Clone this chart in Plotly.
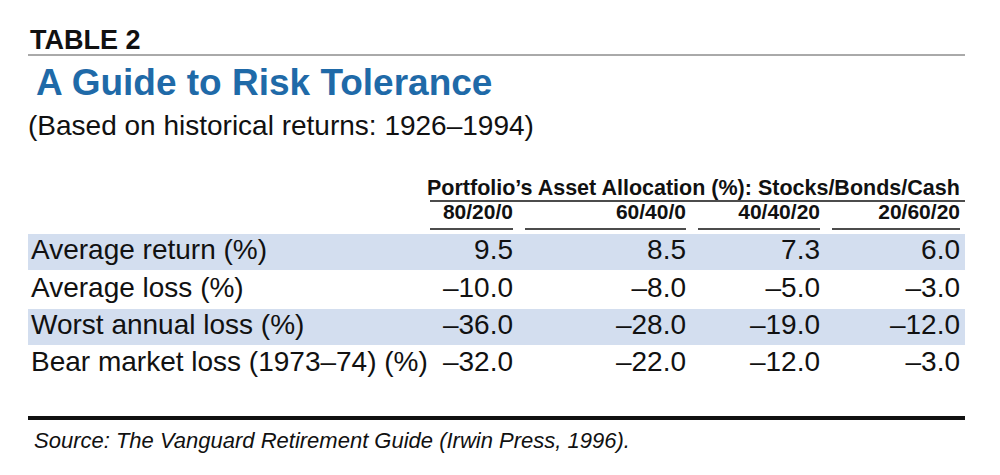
import plotly.graph_objects as go

row_labels = [
    "Average return (%)",
    "Average loss (%)",
    "Worst annual loss (%)",
    "Bear market loss (1973–74) (%)",
]
col_labels = ["80/20/0", "60/40/0", "40/40/20", "20/60/20"]
values = [
    [9.5, 8.5, 7.3, 6.0],
    [-10.0, -8.0, -5.0, -3.0],
    [-36.0, -28.0, -19.0, -12.0],
    [-32.0, -22.0, -12.0, -3.0],
]


class Table:
    def __init__(self):
        self.fig = go.Figure()
        self.col_x = [513, 686, 820, 960]  # right edges of value columns
        self.row_y = [252, 290, 327, 364]
        self.left = 28
        self.right = 965

    def fmt(self, v):
        # Use a real minus sign like the print original
        return f"{v:.1f}".replace("-", "–")

    def shade_rows(self):
        # Light blue band on every other row
        for i, y in enumerate(self.row_y):
            if i % 2 == 0:
                self.fig.add_shape(
                    type="rect", x0=self.left, x1=self.right, y0=y - 18, y1=y + 18,
                    fillcolor="#d3deef", line_width=0, layer="below",
                )

    def add_cells(self):
        # Row labels and values as text marks
        self.fig.add_trace(go.Scatter(
            x=[self.left + 3] * len(row_labels), y=self.row_y, text=row_labels,
            mode="text", textposition="middle right",
            textfont=dict(family="Liberation Sans", size=28, color="#111"),
        ))
        xs, ys, ts = [], [], []
        for i, row in enumerate(values):
            for j, v in enumerate(row):
                xs.append(self.col_x[j])
                ys.append(self.row_y[i])
                ts.append(self.fmt(v))
        self.fig.add_trace(go.Scatter(
            x=xs, y=ys, text=ts, mode="text", textposition="middle left",
            textfont=dict(family="Liberation Sans", size=28, color="#111"),
        ))
        self.fig.add_trace(go.Scatter(
            x=self.col_x, y=[214] * len(col_labels), text=[f"<b>{c}</b>" for c in col_labels],
            mode="text", textposition="middle left",
            textfont=dict(family="Liberation Sans Narrow, Liberation Sans", size=21, color="#111"),
        ))
        for j, x in enumerate(self.col_x):
            x0 = 430 if j == 0 else self.col_x[j - 1] + 12
            self.fig.add_shape(type="line", x0=x0, x1=x, y0=229, y1=229,
                               line=dict(color="#111", width=1.5))

    def add_titles(self):
        ann = [
            (28, 40, "<b>TABLE 2</b>", 27, "Liberation Sans", "#111", "left"),
            (34, 82, "<b>A Guide to Risk Tolerance</b>", 37, "Liberation Sans", "#1f6aa8", "left"),
            (26, 125, "(Based on historical returns: 1926–1994)", 28, "Liberation Sans", "#111", "left"),
            (962, 188, "<b>Portfolio’s Asset Allocation (%): Stocks/Bonds/Cash</b>", 21.5,
             "Liberation Sans Narrow, Liberation Sans", "#111", "right"),
            (32, 440, "<i>Source: The Vanguard Retirement Guide (Irwin Press, 1996).</i>", 22,
             "Liberation Sans", "#111", "left"),
        ]
        for x, y, t, s, f, c, a in ann:
            self.fig.add_annotation(x=x, y=y, text=t, showarrow=False, xanchor=a,
                                    font=dict(size=s, family=f, color=c))
        self.fig.add_shape(type="line", x0=self.left, x1=self.right, y0=55, y1=55,
                           line=dict(color="#555", width=1))
        self.fig.add_shape(type="line", x0=430, x1=self.right, y0=201, y1=201,
                           line=dict(color="#111", width=1.5))
        self.fig.add_shape(type="line", x0=self.left, x1=self.right, y0=418, y1=418,
                           line=dict(color="#111", width=4))

    def render(self, path):
        # Hidden pixel-like axes; page body has an 8px offset, so shift the range
        self.fig.update_layout(
            width=1000, height=475, margin=dict(l=0, r=0, t=0, b=0),
            plot_bgcolor="white", paper_bgcolor="white", showlegend=False,
            xaxis=dict(range=[8, 1008], visible=False),
            yaxis=dict(range=[483, 8], visible=False),
        )
        self.fig.write_html(path)


table = Table()
table.shade_rows()
table.add_cells()
table.add_titles()
table.render("out.html")
